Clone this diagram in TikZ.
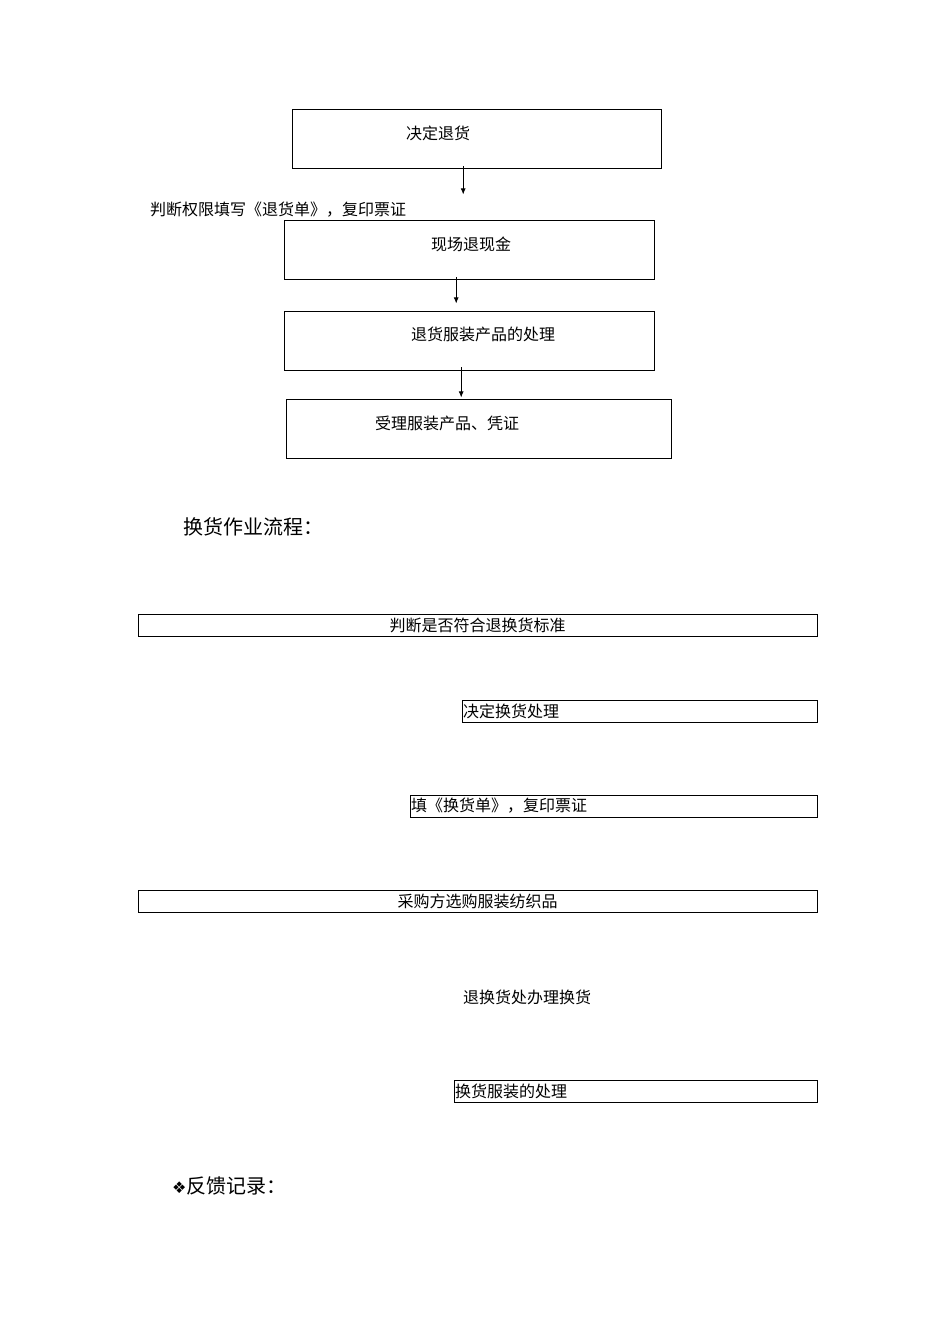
\documentclass[tikz,border=0pt]{standalone}
\usepackage{fontspec}
\setmainfont{Noto Sans CJK SC}
\newfontfamily\symfont{DejaVu Sans}
\usetikzlibrary{arrows.meta}
\begin{document}
\begin{tikzpicture}
[x=1pt,y=-1pt,
box/.style ={rectangle, draw, thin, anchor=north west,
inner sep=0pt, font=\fontsize{16}{19}\selectfont},
flat/.style ={rectangle, draw, thin, anchor=north west,
inner sep=1pt, minimum height=22pt, font=\fontsize{16}{19}\selectfont},
txt/.style ={inner sep=0pt, anchor=west, font=\fontsize{16}{19}\selectfont},
line/.style ={draw, thick, -{Latex[length=6pt,width=5pt]}}]
\useasboundingbox (0,0) rectangle (950,1344);
% return flow
\node [box, minimum width=369pt, minimum height=59pt] (decide) at (292,109) {};
\node [txt] at (406,133) {决定退货};
\node [box, minimum width=370pt, minimum height=59pt] (cash) at (284,220) {};
\node [txt] at (431,244) {现场退现金};
\node [box, minimum width=370pt, minimum height=59pt] (handle) at (284,311) {};
\draw [thick] (handle.south west) -- (handle.south east);
\node [txt] at (411,334) {退货服装产品的处理};
\node [box, minimum width=385pt, minimum height=59pt] (accept) at (286,399) {};
\node [txt] at (375,423) {受理服装产品、凭证};
\node [txt] (judge) at (150,210) {判断权限填写《退货单》，复印票证};
\path [line] ([xshift=-13.5pt,yshift=2pt]decide.south) -- ([xshift=-13.5pt,yshift=-26pt]decide.south);
\path [line] ([xshift=-13pt,yshift=2pt]cash.south) -- ([xshift=-13pt,yshift=-24pt]cash.south);
\path [line] ([xshift=-8pt,yshift=3pt]handle.south) -- ([xshift=-8pt,yshift=-27pt]handle.south);
% exchange flow
\node [txt, font=\fontsize{20}{24}\selectfont] (title) at (183,527) {换货作业流程：};
\node [flat, minimum width=679pt] (check) at (138,614) {};
\node at (check.center) [font=\fontsize{16}{19}\selectfont] {判断是否符合退换货标准};
\node [flat, minimum width=355pt] (swap) at (462,700) {};
\node [txt] at (463,711) {决定换货处理};
\node [flat, minimum width=407pt] (form) at (410,795) {};
\node [txt] at (411,806) {填《换货单》，复印票证};
\node [flat, minimum width=679pt] (buy) at (138,890) {};
\node at (buy.center) [font=\fontsize{16}{19}\selectfont] {采购方选购服装纺织品};
\node [txt] (desk) at (463,997) {退换货处办理换货};
\node [flat, minimum width=363pt] (goods) at (454,1080) {};
\node [txt] at (455,1091) {换货服装的处理};
% feedback
\node [txt, font=\fontsize{20}{24}\selectfont] (feedback) at (172,1186) {{\symfont\fontsize{16}{19}\selectfont ❖}反馈记录：};
\end{tikzpicture}
\end{document}
